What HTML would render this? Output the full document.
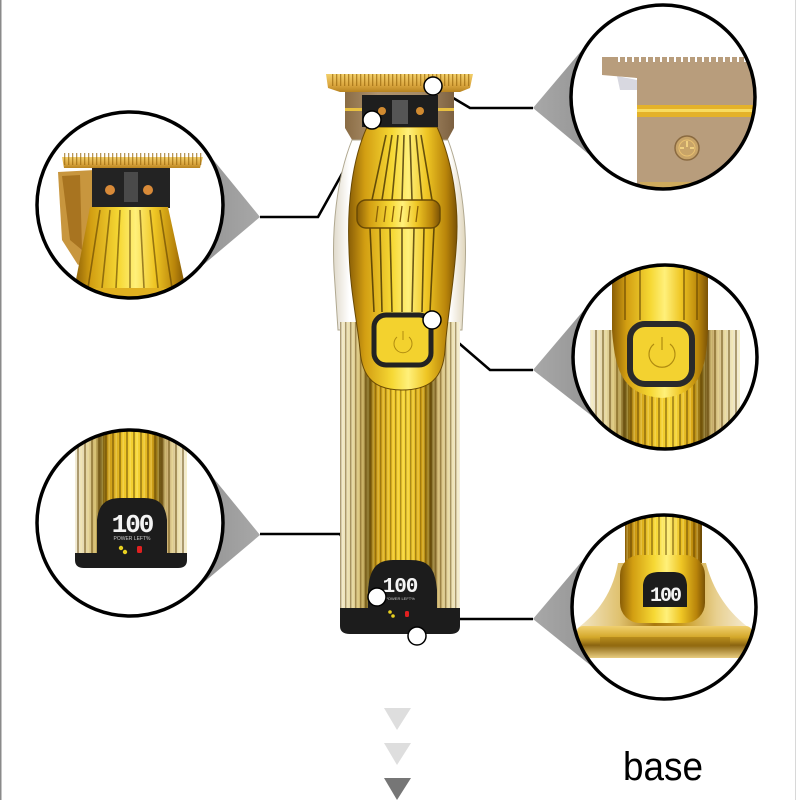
<!DOCTYPE html>
<html><head><meta charset="utf-8"><style>
html,body{margin:0;padding:0;background:#fff;}
svg{display:block;}
</style></head><body>
<svg width="800" height="800" viewBox="0 0 800 800" xmlns="http://www.w3.org/2000/svg">
<defs>
<linearGradient id="gH" x1="0" x2="1" y1="0" y2="0">
<stop offset="0" stop-color="#8a5e06"/><stop offset="0.15" stop-color="#d29e12"/><stop offset="0.4" stop-color="#f6d834"/><stop offset="0.55" stop-color="#fff07a"/><stop offset="0.72" stop-color="#efc624"/><stop offset="0.9" stop-color="#b8840a"/><stop offset="1" stop-color="#7a5206"/>
</linearGradient>
<linearGradient id="gCyl" x1="0" x2="1" y1="0" y2="0">
<stop offset="0" stop-color="#f2ecd8"/><stop offset="0.1" stop-color="#e4d6a6"/><stop offset="0.18" stop-color="#cdb468"/><stop offset="0.24" stop-color="#6e5612"/><stop offset="0.3" stop-color="#cc9c18"/><stop offset="0.45" stop-color="#f0c828"/><stop offset="0.55" stop-color="#f6d636"/><stop offset="0.68" stop-color="#dcaa18"/><stop offset="0.76" stop-color="#6e5412"/><stop offset="0.82" stop-color="#ccb272"/><stop offset="0.92" stop-color="#e8dcb0"/><stop offset="1" stop-color="#f4eedc"/>
</linearGradient>
<linearGradient id="gShell" x1="0" x2="1" y1="0" y2="0">
<stop offset="0" stop-color="#e0dacb"/><stop offset="0.12" stop-color="#ffffff"/><stop offset="0.88" stop-color="#ffffff"/><stop offset="1" stop-color="#e0d6bc"/>
</linearGradient>
<linearGradient id="gBlade" x1="0" x2="0" y1="0" y2="1">
<stop offset="0" stop-color="#f2cf6a"/><stop offset="0.6" stop-color="#dca840"/><stop offset="1" stop-color="#b88420"/>
</linearGradient>
<linearGradient id="gBronze" x1="0" x2="1" y1="0" y2="0">
<stop offset="0" stop-color="#8a6c44"/><stop offset="0.3" stop-color="#b09470"/><stop offset="0.7" stop-color="#a88c66"/><stop offset="1" stop-color="#7c6040"/>
</linearGradient>
<linearGradient id="gWedge" x1="0" x2="1" y1="0" y2="0">
<stop offset="0" stop-color="#7c7c7c"/><stop offset="1" stop-color="#a8a8a8"/>
</linearGradient>
<linearGradient id="gWedgeR" x1="1" x2="0" y1="0" y2="0">
<stop offset="0" stop-color="#7c7c7c"/><stop offset="1" stop-color="#a8a8a8"/>
</linearGradient>
<linearGradient id="gCone" x1="0" x2="1" y1="0" y2="0">
<stop offset="0" stop-color="#f4ead0"/><stop offset="0.25" stop-color="#e0c270"/><stop offset="0.45" stop-color="#a8780e"/><stop offset="0.6" stop-color="#c89a20"/><stop offset="0.8" stop-color="#e8d090"/><stop offset="1" stop-color="#f6eedc"/>
</linearGradient>
<linearGradient id="gDisc" x1="0" x2="0" y1="0" y2="1">
<stop offset="0" stop-color="#f0d070"/><stop offset="0.35" stop-color="#d4a82a"/><stop offset="0.6" stop-color="#8a6410"/><stop offset="1" stop-color="#e8cc80"/>
</linearGradient>
<pattern id="st" width="5" height="10" patternUnits="userSpaceOnUse"><rect x="0" y="0" width="1.4" height="10" fill="#5a3e00" opacity="0.45"/><rect x="2.6" y="0" width="1" height="10" fill="#fff4a0" opacity="0.35"/></pattern>
<pattern id="st2" width="7" height="10" patternUnits="userSpaceOnUse"><rect x="0" y="0" width="2" height="10" fill="#5a3e00" opacity="0.45"/><rect x="3.5" y="0" width="1.3" height="10" fill="#fff4a0" opacity="0.35"/></pattern>
<pattern id="teeth" width="4" height="20" patternUnits="userSpaceOnUse"><rect x="0" y="0" width="1.3" height="20" fill="#9a6a10" opacity="0.7"/></pattern>
<clipPath id="c1"><circle cx="130" cy="205" r="92"/></clipPath>
<clipPath id="c2"><circle cx="663" cy="97" r="91"/></clipPath>
<clipPath id="c3"><circle cx="665" cy="357" r="91"/></clipPath>
<clipPath id="c4"><circle cx="130" cy="523" r="92"/></clipPath>
<clipPath id="c5"><circle cx="664" cy="607" r="91"/></clipPath>
</defs>

<rect width="800" height="800" fill="#fff"/>
<rect x="0" y="0" width="1.5" height="800" fill="#8a8a8a"/>
<rect x="795" y="0" width="1" height="800" fill="#d8d8d8"/>

<!-- wedges -->
<polygon points="260,217 202,146 130,205 190,276" fill="url(#gWedge)"/>
<polygon points="533,108 593,37 663,97 604,167" fill="url(#gWedgeR)"/>
<polygon points="533,370 595,297 665,357 606,427" fill="url(#gWedgeR)"/>
<polygon points="260,535 202,464 130,523 190,594" fill="url(#gWedge)"/>
<polygon points="533,619 594,547 664,607 605,677" fill="url(#gWedgeR)"/>

<!-- connector lines -->
<g stroke="#000" stroke-width="2.6" fill="none">
<polyline points="260,217 318,217 372,120"/>
<polyline points="533,108 470,108 433,86"/>
<polyline points="533,370 490,370 432,320"/>
<polyline points="260,534 340,534 377,597"/>
<polyline points="533,619 432,619 417,636"/>
</g>

<!-- ===== Main trimmer ===== -->
<polygon points="326,74 473,74 470,88 460,92 340,92 328,88" fill="url(#gBlade)"/>
<rect x="330" y="74" width="140" height="12" fill="url(#teeth)"/>
<polygon points="345,92 454,92 454,128 442,150 358,150 345,128" fill="url(#gBronze)"/>
<rect x="345" y="108" width="17" height="3" fill="#e8c040"/>
<rect x="438" y="108" width="16" height="3" fill="#e8c040"/>
<path d="M352,140 C336,180 332,230 334,270 L338,330 L462,330 L465,270 C467,230 463,180 448,140 Z" fill="url(#gShell)" stroke="#b0a890" stroke-width="1"/>
<rect x="340" y="322" width="120" height="290" fill="url(#gCyl)"/>
<rect x="340" y="322" width="120" height="290" fill="url(#st)"/>
<path d="M367,127 L437,127 C452,160 460,205 456,250 C453,290 447,320 445,350 C443,378 430,390 402,390 C375,390 362,378 360,350 C357,320 350,290 349,250 C347,205 352,160 367,127 Z" fill="url(#gH)" stroke="#6a4a04" stroke-width="1"/>
<g stroke="#3a2800" stroke-width="1.6" opacity="0.75" fill="none">
<path d="M386,135 L372,200"/><path d="M392,135 L382,200"/><path d="M398,135 L392,200"/><path d="M404,135 L402,200"/><path d="M410,135 L412,200"/><path d="M416,135 L422,200"/><path d="M421,135 L432,200"/>
<path d="M370,228 L374,312"/><path d="M380,228 L382,312"/><path d="M390,228 L392,312"/><path d="M402,228 L402,312"/><path d="M414,228 L412,312"/><path d="M424,228 L422,312"/><path d="M434,228 L430,312"/>
</g>
<rect x="362" y="95" width="76" height="32" fill="#1e1e1e"/>
<rect x="392" y="100" width="16" height="24" fill="#555"/>
<circle cx="382" cy="111" r="4" fill="#d08a30"/><circle cx="420" cy="111" r="4" fill="#d08a30"/>
<rect x="357" y="200" width="83" height="28" rx="9" fill="url(#gH)" stroke="#6a4a04" stroke-width="1.5"/>
<g stroke="#8a6008" stroke-width="1.3"><line x1="378" y1="206" x2="376" y2="222"/><line x1="386" y1="206" x2="384" y2="222"/><line x1="394" y1="206" x2="392" y2="222"/><line x1="402" y1="206" x2="400" y2="222"/><line x1="410" y1="206" x2="408" y2="222"/><line x1="418" y1="206" x2="416" y2="222"/></g>
<rect x="374" y="315" width="57" height="50" rx="12" fill="#f3d22e" stroke="#222" stroke-width="5"/>
<path d="M397,337 A9,9 0 1 0 409,337" fill="none" stroke="#b08c10" stroke-width="1"/>
<line x1="403" y1="331" x2="403" y2="340" stroke="#b08c10" stroke-width="1"/>
<path d="M340,608 L460,608 L460,626 Q460,634 450,634 L350,634 Q340,634 340,626 Z" fill="#1c1c1c"/>
<path d="M368,634 L368,590 C370,566 378,560 395,560 L410,560 C427,560 435,566 437,590 L437,634 Z" fill="#1c1c1c"/>
<text x="400" y="592" font-family="Liberation Mono, monospace" font-size="21" font-weight="bold" fill="#f4f4f4" text-anchor="middle" letter-spacing="-1">100</text>
<text x="400" y="600" font-family="Liberation Sans, sans-serif" font-size="4" fill="#ccc" text-anchor="middle">POWER LEFT%</text>
<circle cx="390" cy="612" r="1.8" fill="#e8d020"/><circle cx="393" cy="616" r="1.8" fill="#e8d020"/>
<rect x="405" y="611" width="4" height="6" rx="1.5" fill="#e02020"/>

<g fill="#fff" stroke="#000" stroke-width="1.5">
<circle cx="372" cy="120" r="9"/>
<circle cx="433" cy="86" r="9"/>
<circle cx="432" cy="320" r="9"/>
<circle cx="377" cy="597" r="9"/>
<circle cx="417" cy="636" r="9"/>
</g>

<!-- ===== Circle 1 ===== -->
<circle cx="130" cy="205" r="93" fill="#fff"/>
<g clip-path="url(#c1)">
<polygon points="58,172 95,170 95,255 78,265 62,240" fill="#c8963e"/>
<polygon points="62,176 80,175 82,250 70,240" fill="#a87420"/>
<rect x="92" y="166" width="78" height="42" fill="#232323"/>
<rect x="124" y="172" width="14" height="30" fill="#4a4a4a"/>
<circle cx="110" cy="190" r="5" fill="#d88a38"/><circle cx="148" cy="190" r="5" fill="#d88a38"/>
<polygon points="90,207 168,207 186,290 74,290" fill="url(#gH)"/>
<g stroke="#5a3c00" stroke-width="1.6" opacity="0.6"><line x1="100" y1="210" x2="88" y2="288"/><line x1="110" y1="210" x2="102" y2="288"/><line x1="120" y1="210" x2="116" y2="288"/><line x1="130" y1="210" x2="130" y2="288"/><line x1="140" y1="210" x2="144" y2="288"/><line x1="150" y1="210" x2="158" y2="288"/><line x1="160" y1="210" x2="172" y2="288"/></g>
<rect x="80" y="288" width="100" height="16" rx="6" fill="#e0b020"/>
<polygon points="62,157 203,157 200,168 64,168" fill="url(#gBlade)"/>
<rect x="64" y="153" width="138" height="12" fill="url(#teeth)"/>
</g>
<circle cx="130" cy="205" r="93" fill="none" stroke="#000" stroke-width="3.5"/>

<!-- ===== Circle 2 ===== -->
<circle cx="663" cy="97" r="92" fill="#fff"/>
<g clip-path="url(#c2)">
<path d="M617,76 L637,80 L637,90 L620,90 Z" fill="#d8d8e0"/>
<path d="M602,57 L760,57 L760,200 L650,200 Q637,200 637,185 L637,78 L602,75 Z" fill="#b89d7c"/>
<g fill="#fff">
<rect x="618" y="57" width="2" height="5"/><rect x="625" y="57" width="2" height="5"/><rect x="632" y="57" width="2" height="5"/><rect x="639" y="57" width="2" height="5"/><rect x="646" y="57" width="2" height="5"/><rect x="653" y="57" width="2" height="5"/><rect x="660" y="57" width="2" height="5"/><rect x="667" y="57" width="2" height="5"/><rect x="674" y="57" width="2" height="5"/><rect x="681" y="57" width="2" height="5"/><rect x="688" y="57" width="2" height="5"/><rect x="695" y="57" width="2" height="5"/><rect x="702" y="57" width="2" height="5"/><rect x="709" y="57" width="2" height="5"/><rect x="716" y="57" width="2" height="5"/><rect x="723" y="57" width="2" height="5"/><rect x="730" y="57" width="2" height="5"/><rect x="737" y="57" width="2" height="5"/><rect x="744" y="57" width="2" height="5"/><rect x="751" y="57" width="2" height="5"/>
</g>
<rect x="637" y="105" width="125" height="12" fill="#e4b22a"/>
<rect x="637" y="109" width="125" height="3" fill="#f8dc60"/>
<circle cx="687" cy="148" r="12" fill="#c8a468" stroke="#8a6a40" stroke-width="1.5"/>
<circle cx="687" cy="148" r="8" fill="none" stroke="#e8c070" stroke-width="1"/>
<rect x="686" y="141" width="2" height="6" fill="#f0d080"/><rect x="680" y="147" width="4" height="2" fill="#f0d080"/><rect x="690" y="147" width="4" height="2" fill="#f0d080"/>
<rect x="640" y="182" width="100" height="8" fill="#d8b050" opacity="0.7"/>
</g>
<circle cx="663" cy="97" r="92" fill="none" stroke="#000" stroke-width="3.5"/>

<!-- ===== Circle 3 ===== -->
<circle cx="665" cy="357" r="92" fill="#fff"/>
<g clip-path="url(#c3)">
<rect x="590" y="330" width="150" height="140" fill="url(#gCyl)"/>
<rect x="590" y="330" width="150" height="140" fill="url(#st2)"/>
<path d="M612,255 L708,255 L708,330 C706,370 700,395 662,398 C622,395 615,370 612,330 Z" fill="url(#gH)"/>
<g stroke="#5a3c00" stroke-width="2" opacity="0.5"><line x1="625" y1="255" x2="625" y2="320"/><line x1="640" y1="255" x2="640" y2="320"/><line x1="684" y1="255" x2="684" y2="320"/><line x1="697" y1="255" x2="697" y2="320"/></g>
<rect x="630" y="324" width="62" height="60" rx="15" fill="#f3d230" stroke="#2a2a2a" stroke-width="6"/>
<path d="M654,344 A13,13 0 1 0 670,344" fill="none" stroke="#b08c10" stroke-width="1.2"/>
<line x1="662" y1="337" x2="662" y2="350" stroke="#b08c10" stroke-width="1.2"/>
</g>
<circle cx="665" cy="357" r="92" fill="none" stroke="#000" stroke-width="3.5"/>

<!-- ===== Circle 4 ===== -->
<circle cx="130" cy="523" r="93" fill="#fff"/>
<g clip-path="url(#c4)">
<rect x="75" y="425" width="112" height="132" fill="url(#gCyl)"/>
<rect x="75" y="425" width="112" height="132" fill="url(#st2)"/>
<path d="M75,553 L187,553 L187,560 Q187,568 178,568 L84,568 Q75,568 75,560 Z" fill="#1c1c1c"/>
<path d="M97,568 L97,520 C99,502 108,498 122,498 L142,498 C157,498 165,502 167,520 L167,568 Z" fill="#1c1c1c"/>
<text x="132" y="532" font-family="Liberation Mono, monospace" font-size="26" font-weight="bold" fill="#f4f4f4" text-anchor="middle" letter-spacing="-2">100</text>
<text x="132" y="540" font-family="Liberation Sans, sans-serif" font-size="5" fill="#ccc" text-anchor="middle">POWER LEFT%</text>
<circle cx="121" cy="548" r="2.2" fill="#e8d020"/><circle cx="125" cy="552" r="2.2" fill="#e8d020"/>
<rect x="137" y="546" width="5" height="7" rx="1.5" fill="#e02020"/>
</g>
<circle cx="130" cy="523" r="93" fill="none" stroke="#000" stroke-width="3.5"/>

<!-- ===== Circle 5 ===== -->
<circle cx="664" cy="607" r="92" fill="#fff"/>
<g clip-path="url(#c5)">
<rect x="625" y="505" width="77" height="70" fill="url(#gH)"/>
<rect x="625" y="505" width="77" height="70" fill="url(#st2)"/>
<path d="M618,563 C612,598 592,618 575,630 L752,630 C735,618 715,598 706,563 Z" fill="url(#gCone)"/>
<rect x="620" y="555" width="85" height="68" rx="20" fill="url(#gH)"/>
<path d="M643,607 L643,585 C644,575 650,572 660,572 L672,572 C682,572 686,575 687,585 L687,607 Z" fill="#1c1c1c"/>
<text x="665" y="601" font-family="Liberation Mono, monospace" font-size="20" font-weight="bold" fill="#f4f4f4" text-anchor="middle" letter-spacing="-2">100</text>
<rect x="577" y="626" width="175" height="32" rx="6" fill="url(#gDisc)"/>
<rect x="600" y="637" width="130" height="10" fill="#9a7010" opacity="0.5"/>
</g>
<circle cx="664" cy="607" r="92" fill="none" stroke="#000" stroke-width="3.5"/>

<polygon points="384,708 411,708 397,730" fill="#dedede"/>
<polygon points="384,743 411,743 397,765" fill="#dedede"/>
<polygon points="384,778 411,778 397,800" fill="#767676"/>

<text x="623" y="780" font-family="Liberation Sans, sans-serif" font-size="40" fill="#000" textLength="80" lengthAdjust="spacingAndGlyphs">base</text>
</svg>
</body></html>
